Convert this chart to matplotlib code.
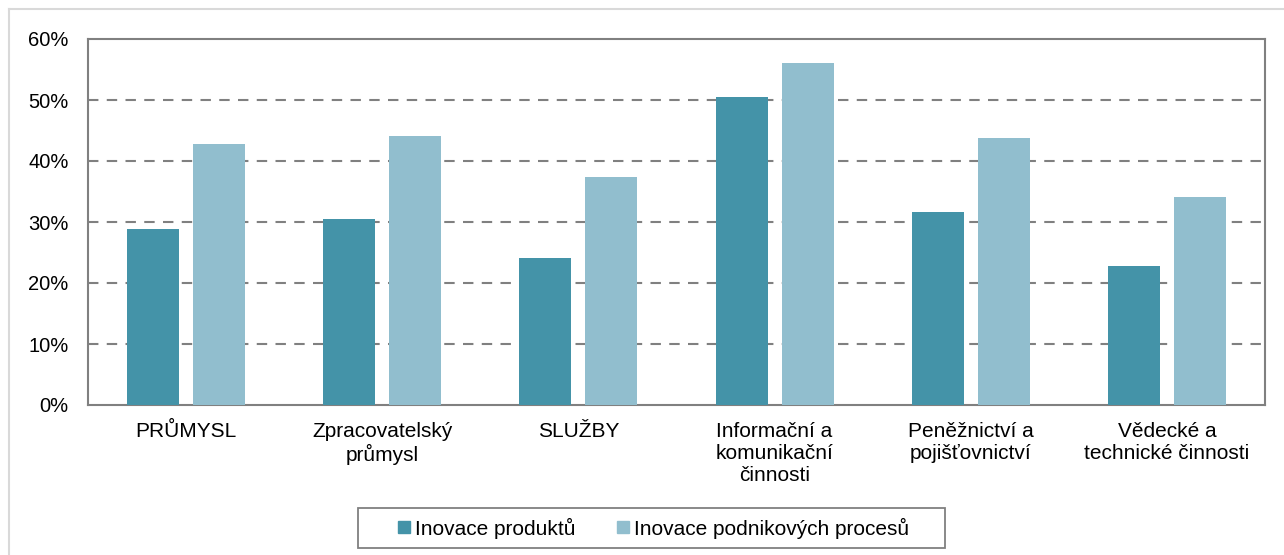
import matplotlib
matplotlib.use("Agg")
import matplotlib.pyplot as plt
from matplotlib.lines import Line2D
from matplotlib.patches import Rectangle
import numpy as np

categories = ["PRŮMYSL", "Zpracovatelský\nprůmysl", "SLUŽBY",
              "Informační a\nkomunikační\nčinnosti", "Peněžnictví a\npojišťovnictví",
              "Vědecké a\ntechnické činnosti"]
produkty = [28.9, 30.5, 24.1, 50.5, 31.6, 22.8]
procesy = [42.8, 44.1, 37.4, 56.1, 43.8, 34.1]
series_names = ["Inovace produktů", "Inovace podnikových procesů"]
yticks = [0, 10, 20, 30, 40, 50, 60]

c_dark = "#4493A8"
c_light = "#91BECE"
grey = "#808080"

plt.rcParams['font.family'] = ['Liberation Sans', 'DejaVu Sans']

W, H = 1284, 555
fig = plt.figure(figsize=(W/100, H/100), dpi=100)
fig.patch.set_facecolor("white")

# outer light border (left and top)
fig.add_artist(Line2D([9/W, 9/W], [0, 1 - 9/H], color="#D9D9D9", lw=1.5))
fig.add_artist(Line2D([9/W, 1], [1 - 9/H, 1 - 9/H], color="#D9D9D9", lw=1.5))

ax = fig.add_axes([88/W, (H-405)/H, (1265-88)/W, (405-39)/H])
x = np.arange(len(categories))
bw = 0.265
off = 0.168
ax.bar(x - off, produkty, bw, color=c_dark, zorder=3)
ax.bar(x + off, procesy, bw, color=c_light, zorder=3)

ax.set_xlim(-0.5, len(categories) - 0.5)
ax.set_ylim(0, 60)
ax.set_yticks(yticks)
ax.set_yticklabels([f"{v}%" for v in yticks], fontsize=14.5)
ax.set_xticks(x)
ax.set_xticklabels(categories, fontsize=15, linespacing=1.22)
ax.tick_params(axis='both', length=0)
ax.tick_params(axis='y', pad=14)
ax.tick_params(axis='x', pad=12)
for v in yticks[1:-1]:
    ax.axhline(v, color=grey, lw=1.5, ls=(0, (5, 4)), zorder=1)
for s in ax.spines.values():
    s.set_color(grey)
    s.set_linewidth(1.5)

handles = [Line2D([], [], marker='s', ls='none', color=c_dark, markersize=8),
           Line2D([], [], marker='s', ls='none', color=c_light, markersize=8)]
leg = fig.legend(handles, series_names, loc='center', bbox_to_anchor=(654/W, 1 - 528/H),
                 ncol=2, fontsize=15, frameon=False,
                 handlelength=0.55, handletextpad=0.25,
                 columnspacing=2.0, borderpad=0, borderaxespad=0)
fig.add_artist(Rectangle((358/W, 1 - 548/H), (945-358)/W, 40/H, transform=fig.transFigure,
                         fill=False, edgecolor=grey, lw=1.3))

fig.savefig("out.png", dpi=100, facecolor="white")
